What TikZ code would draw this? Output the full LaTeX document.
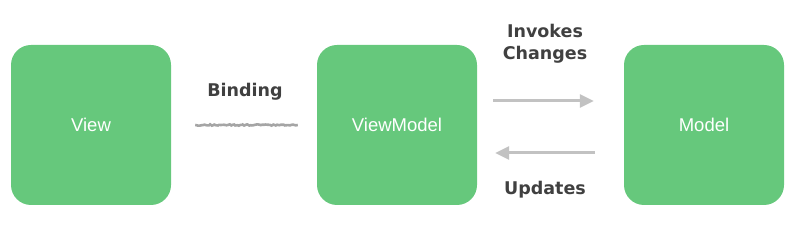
\documentclass[tikz,border=0pt]{standalone}
\usepackage{fontspec}
\setmainfont{Liberation Sans}
\newfontfamily\labfont{DejaVu Sans}
\usetikzlibrary{arrows.meta,decorations.pathmorphing}
\definecolor{boxgreen}{RGB}{102,200,124}
\definecolor{arrgray}{RGB}{194,194,194}
\definecolor{txtgray}{RGB}{64,64,64}
\definecolor{squig}{RGB}{165,165,165}
\tikzset{
  box/.style={fill=boxgreen, draw=none, rounded corners=20pt, minimum width=160pt, minimum height=160pt, inner sep=0pt, text=white, font=\fontsize{18.5}{22}\selectfont},
  arr/.style={draw=arrgray, line width=3pt, -{Triangle[length=14pt,width=13pt]}},
  lab/.style={text=txtgray, font=\labfont\bfseries\fontsize{17.5}{22}\selectfont, align=center, inner sep=0pt},
  squiggle/.style={draw=squig, line width=2.6pt, decorate, decoration={random steps, segment length=1.5pt, amplitude=0.7pt}}
}
\begin{document}
\begin{tikzpicture}[x=1pt,y=-1pt]
\useasboundingbox (0,0) rectangle (800,245);
\node[box] (view) at (91,125) {View};
\node[box] (vm) at (397,125) {ViewModel};
\node[box] (model) at (704,125) {Model};
\draw[squiggle] ([xshift=24pt]view.east) -- ([xshift=-19pt]vm.west);
\draw[arr] ([xshift=16pt,yshift=24pt]vm.east) -- ([xshift=-30pt,yshift=24pt]model.west);
\draw[arr] ([xshift=-29pt,yshift=-28pt]model.west) -- ([xshift=18pt,yshift=-28pt]vm.east);
\node[lab] (binding) at (245,92) {Binding};
\node[lab] (invokes) at (545,44) {Invokes\\Changes};
\node[lab] (updates) at (545,190) {Updates};
\end{tikzpicture}
\end{document}
